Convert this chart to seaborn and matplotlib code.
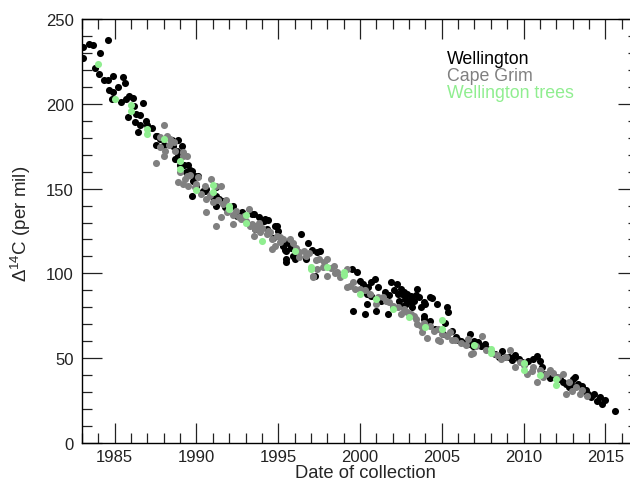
import matplotlib
matplotlib.use("Agg")
import matplotlib.pyplot as plt
from matplotlib.ticker import MultipleLocator
import seaborn as sns
import pandas as pd

# Wellington atmospheric record (black)
wgtn_year = [1983.08, 1983.08, 1983.4, 1983.65, 1984.6, 1984.1, 1983.8, 1984.06, 1984.35, 1984.57,
             1984.9, 1984.67, 1984.9, 1985.2, 1985.5, 1985.6, 1984.85, 1985.4, 1985.7, 1985.9,
             1986.1, 1986.7, 1986.2, 1985.8, 1986.3, 1986.55, 1986.24, 1986.55, 1986.4, 1986.9,
             1987.0, 1987.26, 1987.5, 1987.6, 1987.5, 1987.8, 1988.0, 1988.5, 1988.9, 1988.55,
             1988.8, 1989.1, 1988.7, 1988.9, 1989.0, 1989.24, 1989.5, 1989.36, 1989.7, 1989.9,
             1989.8, 1990.0, 1989.7, 1990.4, 1990.6, 1991.2, 1991.2, 1991.4, 1991.75, 1992.25,
             1992.77, 1993.5, 1993.8, 1994.1, 1994.4, 1994.8, 1993.6, 1989.6, 1990.1, 1990.5,
             1991.0, 1991.6, 1991.2, 1991.85, 1992.46, 1993.4, 1994.2, 1993.7, 1994.3, 1994.9,
             1995.0, 1994.7, 1995.3, 1995.4, 1995.6, 1995.8, 1995.9, 1995.5, 1996.2, 1996.4,
             1996.85, 1997.05, 1997.35, 1997.55, 1997.25, 1996.7, 1996.0, 1995.5, 1995.4, 1995.65,
             1995.5, 1995.3, 1995.75, 1999.5, 1999.8, 2000.0, 2000.2, 2000.5, 2000.7, 2000.9,
             2000.4, 2000.7, 2001.1, 1999.6, 2000.3, 2001.0, 2000.4, 2001.7, 2001.9, 2002.25,
             2002.55, 2002.75, 2003.1, 2003.3, 2003.5, 2002.6, 2003.2, 2003.7, 2004.0, 2004.3,
             2004.7, 2003.9, 2004.3, 2005.3, 2005.4, 2005.2, 2005.6, 2002.0, 2001.8, 2002.3,
             2002.5, 2002.7, 2002.9, 2003.0, 2002.4, 2002.8, 2003.1, 2003.4, 2002.1, 2001.5,
             2001.3, 2003.6, 2004.4, 2003.9, 2003.9, 2004.6, 2005.1, 2005.9, 2006.2, 2006.7,
             2006.6, 2007.2, 2007.65, 2007.75, 2008.25, 2008.5, 2008.7, 2009.1, 2009.5, 2009.7,
             2009.9, 2010.3, 2010.6, 2010.85, 2011.0, 2011.1, 2011.3, 2011.6, 2011.9, 2012.2,
             2012.4, 2012.6, 2012.75, 2013.05, 2013.15, 2013.35, 2013.55, 2013.65, 2013.95, 2014.3,
             2014.5, 2014.7, 2014.8, 2015.0, 2015.6, 2006.0, 2006.4, 2006.9, 2007.0, 2007.4,
             2008.0, 2008.9, 2009.3, 2010.1, 2012.0, 2012.9, 2013.8, 2014.1]
wgtn_d14c = [233.3, 226.8, 235.3, 234.7, 237.8, 230, 221, 217.4, 214, 214.2,
             216.6, 208.3, 206.8, 209.7, 215.6, 212.3, 202.8, 201.2, 202.8, 204.4,
             203.4, 200.3, 198.9, 192, 194, 193.4, 189.5, 187.5, 183.6, 190,
             187.5, 186, 181.2, 180.8, 175.9, 179.2, 175.9, 178.4, 178.4, 174.9,
             171.9, 175.4, 167.5, 169.4, 164.1, 164, 164, 159.6, 160.6, 157.6,
             154.7, 151.7, 145.9, 148.8, 149.8, 150.8, 145.9, 143.9, 139, 140,
             136, 135, 133, 131, 131.7, 128, 126, 161, 157.6, 148.8,
             144.9, 142.9, 140, 138, 134, 135, 132, 128, 126, 128,
             125, 121, 116, 114, 118, 115, 110.4, 108.5, 112.4, 123,
             118, 114, 112.4, 113.4, 98.6, 108.5, 108.5, 106.5, 118.5, 119,
             113.5, 116.5, 116, 102.6, 100.6, 95.7, 93.8, 91.8, 94.8, 96.7,
             87.9, 86.9, 91.8, 78, 76, 78, 82, 76, 94.8, 93.8,
             87.9, 84.9, 86.9, 84, 90.8, 81, 80, 80, 82, 86,
             82, 75, 72, 80, 77, 71, 66, 80, 87, 88,
             91, 89, 88, 84, 84, 82, 83, 87, 90, 89,
             84, 86, 85.3, 83, 73, 67.2, 64.3, 62.3, 60.3, 64.3,
             58.4, 59.4, 58.4, 55.4, 52.5, 50.5, 54.4, 50.5, 51.9, 49.5,
             47.6, 48.5, 49.5, 51.1, 48.5, 44.6, 40.7, 38.1, 38.7, 37.7,
             35.8, 34.8, 32.8, 37.7, 38.7, 34.8, 33.8, 30.8, 28.9, 28.9,
             25, 26.9, 23, 25.5, 19, 61, 59, 57, 60, 57,
             54, 51, 49, 47, 39, 35, 31, 27]

# Cape Grim record (grey)
cg_year = [1987.5, 1988.0, 1987.8, 1988.0, 1988.2, 1988.4, 1988.6, 1987.8, 1988.1, 1988.3,
           1989.2, 1989.4, 1988.9, 1989.3, 1989.5, 1989.9, 1990.1, 1990.6, 1990.9, 1991.2,
           1991.5, 1990.6, 1991.2, 1991.6, 1991.85, 1992.25, 1992.7, 1993.2, 1993.3, 1993.9,
           1994.3, 1989.2, 1989.4, 1989.2, 1990.5, 1991.0, 1991.5, 1992.25, 1992.6, 1993.4,
           1993.6, 1993.5, 1994.6, 1994.8, 1995.1, 1994.6, 1995.7, 1996.3, 1996.7, 1997.5,
           1997.75, 1998.4, 1998.6, 1999.2, 1997.1, 1998.0, 1993.7, 1994.5, 1995.1, 1996.3,
           1997.35, 1997.15, 1998.0, 1999.4, 1999.2, 2000.0, 2001.0, 2001.8, 2002.5, 2002.85,
           2003.7, 2003.8, 2004.1, 2004.9, 2005.5, 1998.5, 1999.7, 2001.4, 2003.4, 2003.5,
           2004.8, 2006.8, 2004.8, 2005.6, 2006.9, 2007.45, 2006.6, 2008.6, 2009.2, 2009.5,
           2010.2, 2010.5, 2010.8, 2011.4, 2011.6, 2012.4, 2012.6, 2012.95, 2013.45, 2013.9,
           2011.2, 1988.7, 1989.0, 1989.6, 1990.0, 1990.3, 1990.8, 1991.3, 1991.8, 1992.0,
           1992.4, 1992.9, 1993.0, 1993.8, 1994.0, 1994.4, 1994.9, 1995.3, 1995.9, 1996.1,
           1996.6, 1996.9, 1997.3, 1997.8, 1998.2, 1998.8, 1999.6, 2000.3, 2000.6, 2001.1,
           2001.6, 2002.0, 2002.3, 2002.7, 2003.1, 2003.3, 2003.9, 2004.3, 2004.5, 2005.0,
           2005.3, 2005.8, 2006.2, 2006.5, 2007.1, 2007.7, 2008.1, 2008.4, 2008.9, 2009.8,
           2010.0, 2010.6, 2011.0, 2011.8, 2012.1, 2012.8, 2013.2, 2013.6]
cg_d14c = [164.9, 187.5, 180.2, 169.4, 181.2, 179.2, 177.3, 174.3, 172.3, 175.5,
           169.4, 169.4, 153.7, 155.7, 151.7, 150.7, 156.7, 143.9, 155.7, 151.7,
           151.7, 136, 127.8, 141, 136, 134.2, 132, 138, 128, 124.2,
           123.2, 171.4, 157.6, 152.7, 151.7, 141.9, 133, 129, 133, 129,
           126, 122.3, 120.3, 116.3, 118.3, 114.4, 120.3, 112.4, 110.4, 108.5,
           103.6, 104.5, 100.6, 102.6, 98.6, 98.6, 128, 124.2, 121.3, 109.5,
           102.6, 97.7, 108.5, 92.7, 91.8, 90.8, 82, 83, 76, 77,
           69.2, 65.3, 61.7, 60.3, 65.3, 100, 91, 86, 73, 70,
           67, 52.5, 60.9, 60.9, 53, 63, 61.3, 49.5, 54.8, 44.6,
           40.7, 42.6, 36.1, 40.7, 43, 40.7, 28.9, 30.8, 28.9, 27.9,
           38.7, 172, 160, 158, 153, 147, 146, 143, 143, 138,
           137, 134, 131, 130, 127, 125, 122, 120, 118, 115,
           113, 112, 108, 107, 103, 98, 95, 90, 88, 86,
           84, 81, 80, 79, 76, 75, 71, 69, 66, 64,
           63, 61, 59, 58, 57, 55, 53, 52, 51, 48,
           46, 45, 43, 41, 39, 36, 33, 31]

# Wellington tree rings (green)
tree_year = [1984.0, 1985.0, 1986.0, 1986.0, 1987.0, 1987.0, 1988.0, 1989.0, 1989.0, 1990.0,
             1991.0, 1991.0, 1992.0, 1992.0, 1993.0, 1993.0, 1994.0, 1996.0, 1997.0, 1997.0,
             1998.0, 1999.0, 1999.0, 2000.0, 2001.0, 2002.0, 2003.0, 2004.0, 2005.0, 2005.0,
             2007.0, 2008.0, 2008.0, 2010.0, 2010.0, 2011.0, 2012.0, 2012.0]
tree_d14c = [223.5, 203, 199, 196, 185, 182, 179, 166, 161.5, 149,
             152, 148, 140, 138, 134.5, 130, 119, 113, 104, 102.5,
             104, 101, 99, 88, 85, 79, 74, 68.5, 72.5, 67,
             58, 55.4, 53, 47, 43, 40, 37.7, 34]

series_names = ["Wellington", "Cape Grim", "Wellington trees"]
series_colors = ["black", "#808080", "#90ee90"]

wgtn = pd.DataFrame({"year": wgtn_year, "d14c": wgtn_d14c})
cg = pd.DataFrame({"year": cg_year, "d14c": cg_d14c})
trees = pd.DataFrame({"year": tree_year, "d14c": tree_d14c})

sns.set_style("ticks")
plt.rcParams["font.family"] = ["Liberation Sans", "DejaVu Sans"]
plt.rcParams["mathtext.fontset"] = "custom"
plt.rcParams["mathtext.rm"] = "Liberation Sans"
plt.rcParams["mathtext.it"] = "Liberation Sans:italic"

fig = plt.figure(figsize=(6.3, 4.81), dpi=100)
ax = fig.add_axes([82 / 630, 37 / 481, 556 / 630, 424 / 481])

for df, c in zip([wgtn, cg, trees], series_colors):
    sns.scatterplot(data=df, x="year", y="d14c", color=c, s=26, linewidth=0, ax=ax, legend=False)

ax.set_xlim(1983, 2017)
ax.set_ylim(0, 250)
ax.xaxis.set_major_locator(MultipleLocator(5))
ax.xaxis.set_minor_locator(MultipleLocator(1))
ax.yaxis.set_major_locator(MultipleLocator(50))
ax.yaxis.set_minor_locator(MultipleLocator(10))
ax.tick_params(which="both", direction="in", top=True, right=True, labelsize=12, colors="#222222")
ax.tick_params(which="major", length=14.4, width=0.9, pad=6)
ax.tick_params(which="minor", length=7.2, width=0.9)
ax.tick_params(axis="x", which="major", pad=4.5)
for sp in ax.spines.values():
    sp.set_linewidth(1.0)
    sp.set_color("black")

ax.set_xlabel("Date of collection", fontsize=13.2)
ax.set_ylabel(r"$\Delta^{14}$C (per mil)", fontsize=13.5)
ax.xaxis.set_label_coords(0.509, -0.050)
ax.yaxis.set_label_coords(-0.088, 0.52)

for i, (name, c) in enumerate(zip(series_names, series_colors)):
    ax.text(0.6565, 0.9057 - i * 0.0401, name, color=c, fontsize=12.8,
            va="center", ha="left", transform=ax.transAxes)

fig.savefig("out.png", dpi=100)
